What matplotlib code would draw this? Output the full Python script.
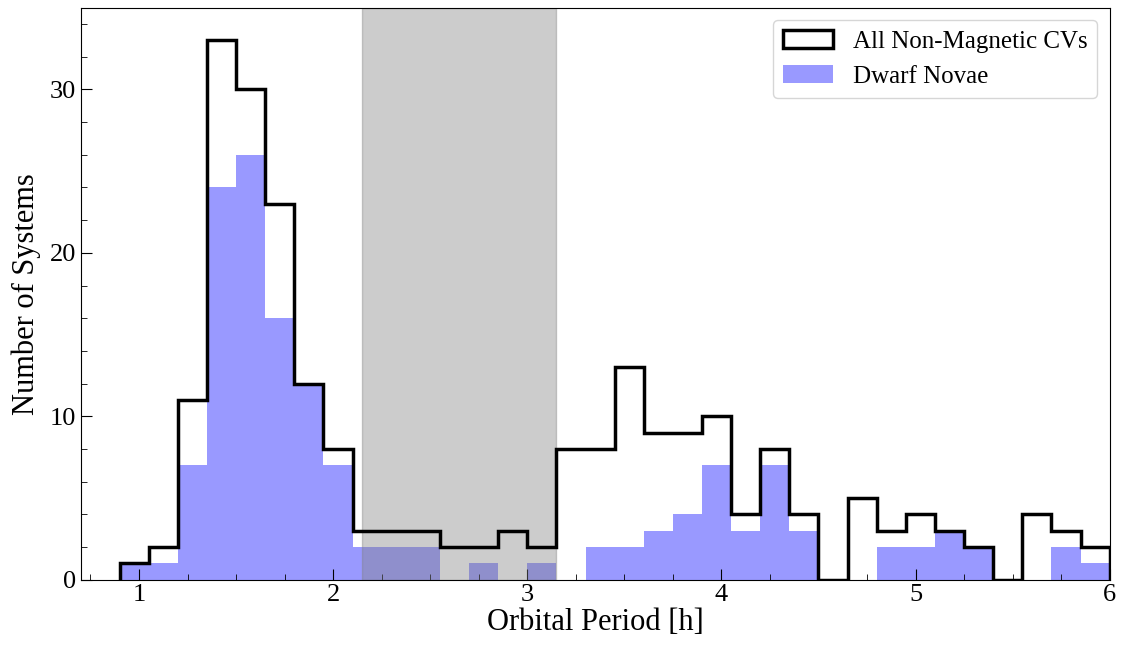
import matplotlib

matplotlib.use("Agg")
import matplotlib.pyplot as plt
import numpy as np

# bin edges: 0.9 h to 6.0 h in 0.15 h steps
bin_start = 0.9
bin_width = 0.15
n_bins = 34

# counts per bin
all_nonmag = [1, 2, 11, 33, 30, 23, 12, 8, 3, 3, 3, 2, 2, 3, 2, 8, 8,
              13, 9, 9, 10, 4, 8, 4, 0, 5, 3, 4, 3, 2, 0, 4, 3, 2]
dwarf_novae = [1, 1, 7, 24, 26, 16, 12, 7, 2, 2, 2, 0, 1, 0, 1, 0, 2,
               2, 3, 4, 7, 3, 7, 3, 0, 0, 2, 2, 3, 2, 0, 0, 2, 1]

# period gap
gap = (2.15, 3.15)

plt.rcParams["font.family"] = ["Liberation Serif", "DejaVu Serif"]

edges = bin_start + bin_width * np.arange(n_bins + 1)
centers = 0.5 * (edges[:-1] + edges[1:])

fig, ax = plt.subplots(figsize=(11.22, 6.49), dpi=100)

ax.hist(centers, bins=edges, weights=dwarf_novae, color="b", alpha=0.4,
        label="Dwarf Novae", zorder=1)
ax.axvspan(gap[0], gap[1], color="0.5", alpha=0.4, zorder=2)
ax.hist(centers, bins=edges, weights=all_nonmag, histtype="step",
        color="k", lw=2.5, label="All Non-Magnetic CVs", zorder=3)

ax.set_xlim(0.7, 6.0)
ax.set_ylim(0, 35)
ax.set_xticks([1, 2, 3, 4, 5, 6])
ax.set_xticks(np.arange(0.75, 6.0, 0.25), minor=True)
ax.set_yticks([0, 10, 20, 30])
ax.set_yticks(np.arange(0, 35, 2), minor=True)
ax.tick_params(which="both", direction="in", labelsize=19)
ax.tick_params(which="major", length=8)
ax.tick_params(which="minor", length=4)

ax.set_xlabel("Orbital Period [h]", fontsize=22, labelpad=1)
ax.set_ylabel("Number of Systems", fontsize=22, labelpad=6)

handles, labels = ax.get_legend_handles_labels()
ax.legend(handles[::-1], labels[::-1], loc="upper right", fontsize=18)

fig.subplots_adjust(left=0.072, right=0.989, top=0.988, bottom=0.107)
fig.savefig("out.png", dpi=100)
